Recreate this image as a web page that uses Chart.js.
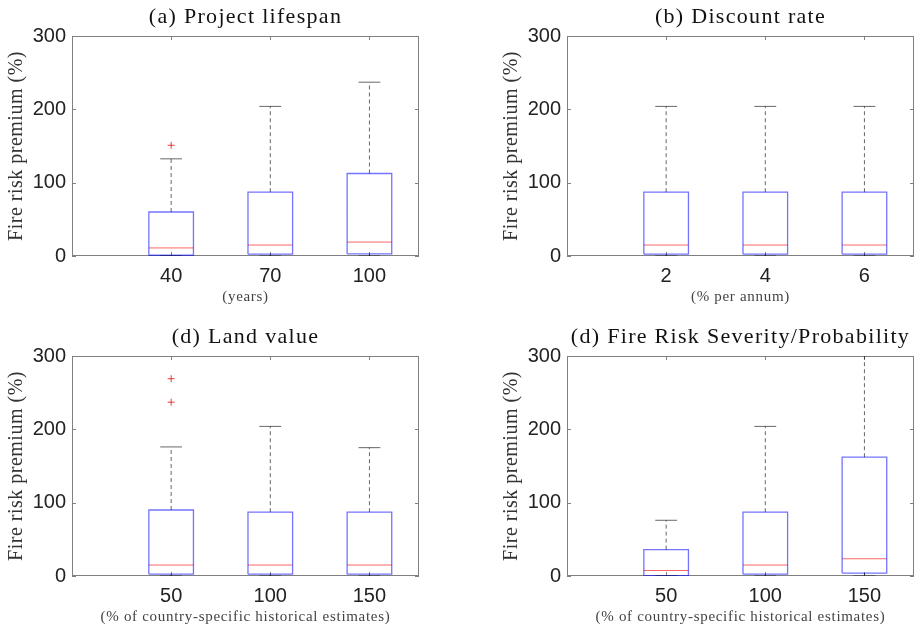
<!DOCTYPE html>
<html>
<head>
<meta charset="utf-8">
<script src="https://cdn.jsdelivr.net/npm/chart.js@4.4.1/dist/chart.umd.min.js"></script>
<style>
    html, body { margin: 0; padding: 0; background: #fff; overflow: hidden; }
    canvas { position: absolute; }
</style>
</head>
<body>
<canvas id="panel-a" width="426" height="307" style="left:0px;top:0px"></canvas>
<canvas id="panel-b" width="426" height="307" style="left:495px;top:0px"></canvas>
<canvas id="panel-c" width="426" height="307" style="left:0px;top:320px"></canvas>
<canvas id="panel-d" width="426" height="307" style="left:495px;top:320px"></canvas>
<script>
// DATA
// ---------------------------------------------------
const positions = [ 1, 2, 3 ];

// (a) project lifespan
const lifespanLabels = [ '40', '70', '100' ];
const lifespanLow = [ 0, 0, 0 ];
const lifespanQ1 = [ 1, 2.5, 3 ];
const lifespanMedian = [ 11, 15, 19 ];
const lifespanQ3 = [ 60, 87, 112.5 ];
const lifespanHigh = [ 132.5, 204, 237 ];
const lifespanOutliers = [ [ 151 ], [], [] ];

// (b) discount rate
const discountLabels = [ '2', '4', '6' ];
const discountLow = [ 0, 0, 0 ];
const discountQ1 = [ 2.5, 2.5, 2.5 ];
const discountMedian = [ 15, 15, 15 ];
const discountQ3 = [ 87, 87, 87 ];
const discountHigh = [ 204, 204, 204 ];
const discountOutliers = [ [], [], [] ];

// (c) land value
const landLabels = [ '50', '100', '150' ];
const landLow = [ 0, 0, 0 ];
const landQ1 = [ 2.5, 2.5, 2.5 ];
const landMedian = [ 15, 15, 15 ];
const landQ3 = [ 90, 87, 87 ];
const landHigh = [ 176, 204, 175 ];
const landOutliers = [ [ 237, 269 ], [], [] ];

// (d) fire risk severity / probability
const severityLabels = [ '50', '100', '150' ];
const severityLow = [ 0, 0, 0 ];
const severityQ1 = [ 0.5, 2.5, 4 ];
const severityMedian = [ 7.5, 15, 23.5 ];
const severityQ3 = [ 36, 87, 162 ];
const severityHigh = [ 76, 204, 340 ];
const severityOutliers = [ [], [], [] ];

const yTicks = [ 0, 100, 200, 300 ];
const yTitle = 'Fire risk premium (%)';

// STYLE
// ---------------------------------------------------
const SERIF = '"Liberation Serif", "Times New Roman", serif';
const SANS = '"Liberation Sans", Arial, sans-serif';
const AXIS_COLOR = '#808080';
const BOX_HALF = 0.225;
const CAP_HALF = 0.11;

// BUILD BOX PLOT DATASETS
// ---------------------------------------------------
function boxDatasets( low, q1, median, q3, high, outliers ) {
    let box = [], med = [], whisk = [], caps = [], outs = [];
    positions.forEach( function ( x, i ) {
        box.push( { x: x - BOX_HALF, y: q1[i] }, { x: x + BOX_HALF, y: q1[i] },
                  { x: x + BOX_HALF, y: q3[i] }, { x: x - BOX_HALF, y: q3[i] },
                  { x: x - BOX_HALF, y: q1[i] }, { x: x, y: null } );
        med.push( { x: x - BOX_HALF, y: median[i] }, { x: x + BOX_HALF, y: median[i] }, { x: x, y: null } );
        whisk.push( { x: x, y: q3[i] }, { x: x, y: high[i] }, { x: x, y: null },
                    { x: x, y: low[i] }, { x: x, y: q1[i] }, { x: x, y: null } );
        caps.push( { x: x - CAP_HALF, y: high[i] }, { x: x + CAP_HALF, y: high[i] }, { x: x, y: null },
                   { x: x - CAP_HALF, y: low[i] }, { x: x + CAP_HALF, y: low[i] }, { x: x, y: null } );
        outliers[i].forEach( function ( v ) { outs.push( { x: x, y: v } ); } );
    });
    const line = { showLine: true, pointRadius: 0, spanGaps: false, borderWidth: 1, fill: false };
    return [
        Object.assign( { data: whisk, borderColor: 'rgba(0,0,0,0.6)', borderDash: [ 4, 3 ] }, line ),
        Object.assign( { data: caps, borderColor: 'rgba(0,0,0,0.6)' }, line ),
        Object.assign( { data: box, borderColor: 'rgba(0,0,255,0.55)' }, line, { borderWidth: 1.3 } ),
        Object.assign( { data: med, borderColor: 'rgba(255,0,0,0.6)' }, line ),
        { data: outs, showLine: false, pointStyle: 'cross', pointRadius: 3.5, borderWidth: 1,
          borderColor: 'rgba(220,0,0,0.75)', backgroundColor: 'rgba(220,0,0,0.75)' }
    ];
}

// FRAME, INWARD TICKS, PANEL TITLE AND AXIS TITLES
// ---------------------------------------------------
const framePlugin = {
    id: 'frame',
    beforeDatasetsDraw: function ( chart ) {
        const ctx = chart.ctx, a = chart.chartArea;
        const xs = chart.scales.x, ys = chart.scales.y;
        ctx.save();
        ctx.strokeStyle = AXIS_COLOR;
        ctx.lineWidth = 1;
        ctx.strokeRect( a.left + 0.5, a.top + 0.5, a.right - a.left - 1, a.bottom - a.top - 1 );
        ctx.beginPath();
        positions.forEach( function ( p ) {
            const px = Math.round( xs.getPixelForValue( p ) ) + 0.5;
            ctx.moveTo( px, a.top ); ctx.lineTo( px, a.top + 4 );
            ctx.moveTo( px, a.bottom ); ctx.lineTo( px, a.bottom - 4 );
        });
        yTicks.forEach( function ( t ) {
            const py = Math.round( ys.getPixelForValue( t ) ) + 0.5;
            ctx.moveTo( a.left, py ); ctx.lineTo( a.left + 4, py );
            ctx.moveTo( a.right, py ); ctx.lineTo( a.right - 4, py );
        });
        ctx.stroke();
        ctx.restore();
    },
    afterDraw: function ( chart ) {
        const ctx = chart.ctx, a = chart.chartArea;
        const cx = ( a.left + a.right ) / 2;
        ctx.save();
        ctx.textAlign = 'center';
        ctx.textBaseline = 'middle';
        // panel title
        ctx.fillStyle = '#111';
        ctx.font = '22px ' + SERIF;
        ctx.letterSpacing = '1.3px';
        ctx.fillText( chart.options.panelTitle, cx, 17 );
        // x axis title
        ctx.fillStyle = '#444';
        ctx.font = '15px ' + SERIF;
        ctx.letterSpacing = '0.7px';
        ctx.fillText( chart.options.xTitle, cx, 297 );
        // y axis title
        ctx.fillStyle = '#333';
        ctx.font = '20px ' + SERIF;
        ctx.letterSpacing = '0.5px';
        ctx.translate( 17, ( a.top + a.bottom ) / 2 );
        ctx.rotate( -Math.PI / 2 );
        ctx.fillText( yTitle, 0, 0 );
        ctx.restore();
    }
};

// PANEL
// ---------------------------------------------------
function makePanel( id, title, labels, xTitle, datasets ) {
    return new Chart( document.getElementById( id ), {
        type: 'scatter',
        data: { datasets: datasets },
        options: {
            panelTitle: title,
            xTitle: xTitle,
            responsive: false,
            animation: false,
            devicePixelRatio: 1,
            layout: { padding: { top: 36, right: 7, left: 0, bottom: 0 } },
            plugins: { legend: { display: false }, tooltip: { enabled: false }, title: { display: false } },
            scales: {
                x: {
                    type: 'linear', min: 0, max: 3.5,
                    grid: { display: false, drawTicks: false },
                    border: { display: false },
                    afterBuildTicks: function ( s ) { s.ticks = positions.map( function ( p ) { return { value: p }; } ); },
                    afterFit: function ( s ) { s.height = 51; },
                    ticks: {
                        padding: 8, color: '#222', font: { family: SANS, size: 20 },
                        callback: function ( v ) { return labels[ positions.indexOf( v ) ]; }
                    }
                },
                y: {
                    min: 0, max: 300,
                    grid: { display: false, drawTicks: false },
                    border: { display: false },
                    afterBuildTicks: function ( s ) { s.ticks = yTicks.map( function ( t ) { return { value: t }; } ); },
                    afterFit: function ( s ) { s.width = 72; },
                    ticks: { padding: 6, color: '#222', font: { family: SANS, size: 20 } }
                }
            }
        },
        plugins: [ framePlugin ]
    });
}

window.addEventListener( 'load', function () {
    makePanel( 'panel-a', '(a) Project lifespan', lifespanLabels, '(years)',
        boxDatasets( lifespanLow, lifespanQ1, lifespanMedian, lifespanQ3, lifespanHigh, lifespanOutliers ) );
    makePanel( 'panel-b', '(b) Discount rate', discountLabels, '(% per annum)',
        boxDatasets( discountLow, discountQ1, discountMedian, discountQ3, discountHigh, discountOutliers ) );
    makePanel( 'panel-c', '(d) Land value', landLabels, '(% of country-specific historical estimates)',
        boxDatasets( landLow, landQ1, landMedian, landQ3, landHigh, landOutliers ) );
    makePanel( 'panel-d', '(d) Fire Risk Severity/Probability', severityLabels, '(% of country-specific historical estimates)',
        boxDatasets( severityLow, severityQ1, severityMedian, severityQ3, severityHigh, severityOutliers ) );
}, false );
</script>
</body>
</html>
